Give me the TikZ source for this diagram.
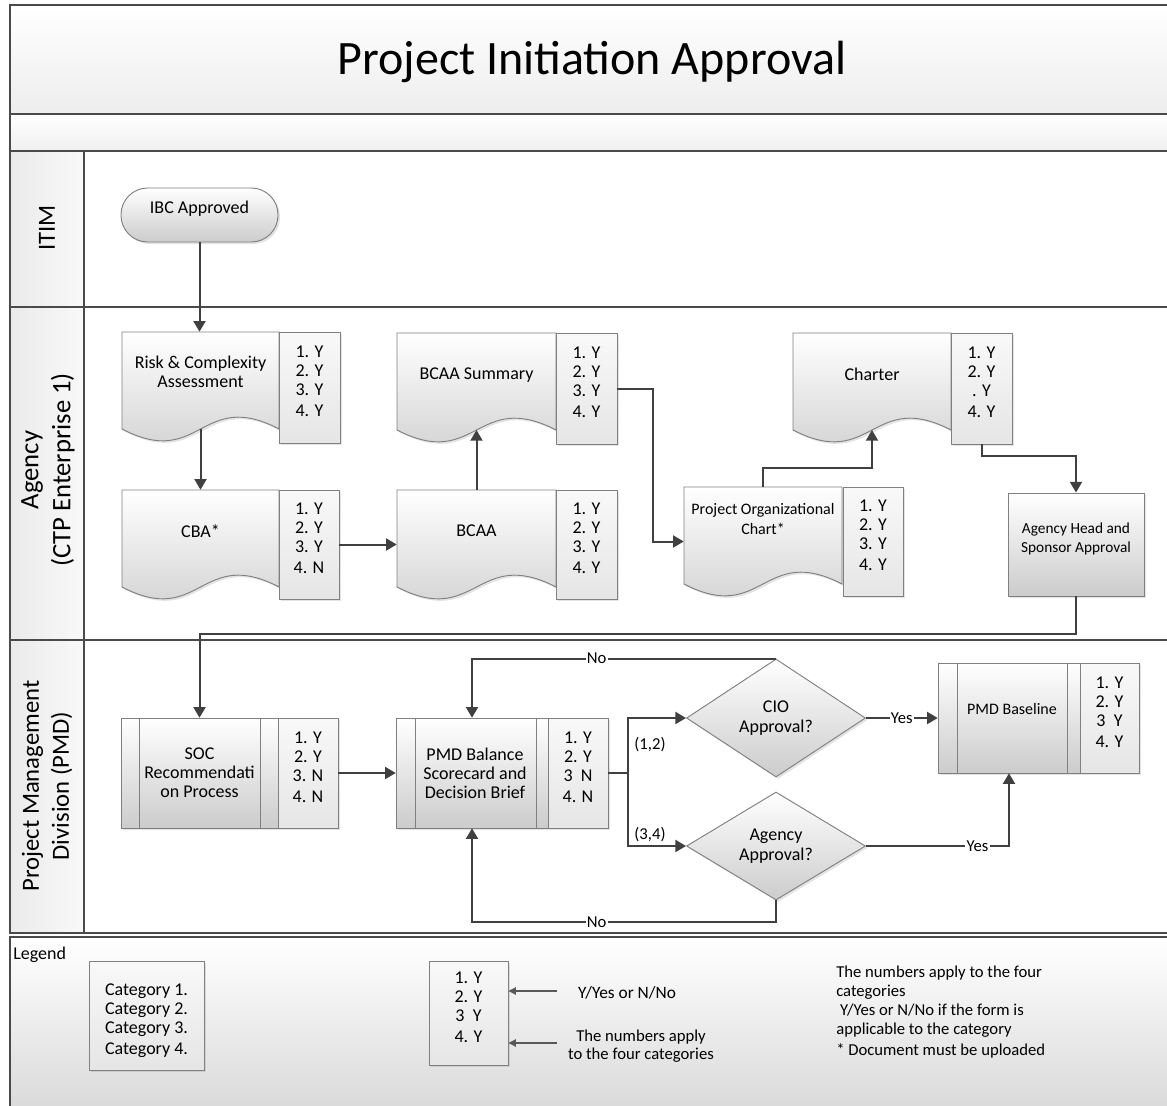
\documentclass[tikz,border=0pt]{standalone}
\usepackage{fontspec}
\setmainfont{Carlito}
\usetikzlibrary{arrows.meta,shapes.geometric,fit,shadows}
\newcommand\myfs[2]{\fontsize{#1}{#2}\selectfont}
\definecolor{ln}{HTML}{404040}
\definecolor{bd}{HTML}{808080}
\definecolor{lanec}{HTML}{4A4A4A}

\newcommand\docshape[7][]{%
  \pgfmathsetmacro\dR{#3+#5}%
  \pgfmathsetmacro\dB{#4+97}%
  \pgfmathsetmacro\dM{#3+0.5*#5}%
  \pgfmathsetmacro\dDn{#4+138}%
  \pgfmathsetmacro\dUp{#4+56}%
  \pgfmathsetmacro\dTy{#4+#7}%
  \pgfmathsetmacro\dBot{#4+109}%
  \path[shp] (#3,#4) -- (\dR,#4) -- (\dR,\dB) .. controls (\dM,\dUp) and (\dM,\dDn) .. (#3,\dB) -- cycle;
  \node[namefit, fit={(#3,#4) (\dR,\dBot)}] (#2) {};
  \coordinate (#2-b) at (\dM,\dB);
  \node[txt,#1] (#2-t) at (\dM,\dTy) {#6};
}

\newcommand\procshape[6]{%
  \pgfmathsetmacro\pB{#3+110}%
  \pgfmathsetmacro\pXa{#2+#5}%
  \pgfmathsetmacro\pXb{#4-#6}%
  \path[shp] (#2,#3) rectangle (#4,\pB);
  \draw[draw=bd, line width=0.7pt] (\pXa,#3) -- (\pXa,\pB) (\pXb,#3) -- (\pXb,\pB);
  \node[namefit, fit={(#2,#3) (#4,\pB)}] (#1) {};
}

\begin{document}
\begin{tikzpicture}[x=0.75pt, y=-0.75pt,
  conn/.style={draw=ln, line width=1.5pt, -{Triangle[length=8pt,width=9pt]}},
  legarr/.style={draw=gray!70!black, line width=0.8pt, -{Triangle[length=5.5pt,width=5.5pt]}},
  shd/.style={drop shadow={shadow xshift=1.5pt, shadow yshift=-1.5pt, opacity=0.22}},
  shp/.style={draw=bd, line width=0.7pt, top color=white, bottom color=gray!40, shd},
  chk/.style={draw=bd, line width=0.7pt, top color=gray!5, bottom color=gray!20, shd, inner sep=0pt, align=center, font=\myfs{13.5}{14.25}},
  txt/.style={inner sep=0pt, align=center, font=\myfs{13.5}{14.25}},
  lbl/.style={fill=white, inner sep=1pt, font=\myfs{12.5}{14}},
  lanebox/.style={draw=lanec, line width=1.2pt},
  lanelbl/.style={rotate=90, align=center, inner sep=0pt, font=\myfs{18.5}{22.5}},
  namefit/.style={inner sep=0pt},
]
\useasboundingbox (0,0) rectangle (1167,1106);
\fill[white] (0,0) rectangle (1167,1106);

% ---- bands and lanes
\path[lanebox, top color=white, bottom color=gray!14] (10,5) rectangle (1180,114);
\node[inner sep=0pt, font=\myfs{36}{40}] (title) at (592,62) {Project Initiation Approval};
\path[lanebox, top color=white, bottom color=gray!12] (10,114) rectangle (1180,151);
\path[left color=gray!16, right color=gray!5] (10,151) rectangle (84,933);
\draw[lanebox] (10,151) rectangle (1180,307);
\draw[lanebox] (10,307) rectangle (1180,640);
\draw[lanebox] (10,640) rectangle (1180,933);
\draw[lanebox] (84,151) -- (84,933);
\node[lanelbl] (litim) at (47,228) {ITIM};
\node[lanelbl, font=\myfs{20}{24}] (lagency) at (48,470) {Agency\\(CTP Enterprise 1)};
\node[lanelbl] (lpmd) at (47,786) {Project Management\\Division (PMD)};
\path[lanebox, top color=white, bottom color=gray!32] (10,937) rectangle (1180,1125);

% ---- ITIM
\node[shp, rounded corners=20pt, inner sep=0pt, fit={(121,188) (278,242)}, font=\myfs{13.5}{14.25}] (ibc) {IBC Approved};

% ---- Agency
\docshape{risk}{122}{332}{157}{Risk \& Complexity\\Assessment}{40}
\node[chk, fit={(279,332) (340,443)}] (riskc) {1. Y\\2. Y\\3. Y\\[1.5pt]4. Y};
\docshape{cba}{122}{490}{157}{CBA*}{41}
\node[chk, fit={(279,490) (339,599)}] (cbac) {1. Y\\2. Y\\3. Y\\[1.5pt]4. N};
\docshape{bsum}{397}{333}{159}{BCAA Summary}{42}
\node[chk, fit={(556,333) (617,444)}] (bsumc) {1. Y\\2. Y\\3. Y\\[1.5pt]4. Y};
\docshape{bcaa}{397}{490}{159}{BCAA}{41}
\node[chk, fit={(556,490) (617,599)}] (bcaac) {1. Y\\2. Y\\3. Y\\[1.5pt]4. Y};
\docshape[font=\myfs{12}{14.5}]{org}{684}{487}{158}{Project Organizational\\Chart*}{32}
\node[chk, fit={(843,487) (903,596)}] (orgc) {1. Y\\2. Y\\3. Y\\[1.5pt]4. Y};
\docshape{charter}{793}{333}{158}{Charter}{41}
\node[chk, fit={(951,333) (1012,444)}] (charterc) {1. Y\\2. Y\\. Y\\[1.5pt]4. Y};
\node[shp, inner sep=0pt, align=center, fit={(1008,493) (1144,596)}, font=\myfs{11.5}{14.25}] (head) {Agency Head and\\Sponsor Approval};

% ---- PMD
\procshape{soc}{121}{718}{278}{18}{18}
\node[txt] (soct) at (199.5,773) {SOC\\Recommendati\\on Process};
\node[chk, fit={(278,718) (338,828)}] (socc) {1. Y\\2. Y\\3. N\\[1.5pt]4. N};
\procshape{pmd}{396}{718}{548}{19}{12}
\node[txt] (pmdt) at (475,773) {PMD Balance\\Scorecard and\\Decision Brief};
\node[chk, fit={(548,718) (608,828)}] (pmdc) {1. Y\\2. Y\\3\ \ N\\[1.5pt]4. N};
\procshape{base}{938}{663}{1080}{19}{13}
\node[txt, font=\myfs{12}{14}] (baset) at (1012,709) {PMD Baseline};
\node[chk, fit={(1080,663) (1139,773)}] (basec) {1. Y\\2. Y\\3\ \ Y\\[1.5pt]4. Y};
\node[shp, shape=diamond, inner sep=0pt, minimum width=134.25pt, minimum height=88.5pt, align=center, font=\myfs{13.5}{15.5}] (cio) at (776,718) {CIO\\Approval?};
\node[shp, shape=diamond, inner sep=0pt, minimum width=134.25pt, minimum height=81pt, align=center, font=\myfs{13.5}{14.5}] (agy) at (776,846) {Agency\\Approval?};

% ---- connectors
\draw[conn] (ibc.south) -- (ibc.south |- risk.north);
\draw[conn] (risk-b) -- (cba.north);
\draw[conn] (cbac.east) -- (cbac.east -| bcaa.west);
\draw[conn] (bcaa.north) -- (bsum-b);
\draw[conn] (bsumc.east) -- ++(36,0) |- (org.west);
\draw[conn] (org.north) -- ++(0,-19) -| (charter-b);
\draw[conn] (charterc.south) -- ++(0,12) -| (head.north);
\draw[conn] (head.south) -- ++(0,38) -| (soc.north);
\draw[conn] (socc.east) -- (pmd.west);
\draw[conn] (pmdc.east) -- ++(20,0) |- (cio.west);
\draw[conn] (pmdc.east) -- ++(20,0) |- (agy.west);
\draw[conn] (cio.east) -- node[lbl] {Yes} (base.west);
\draw[conn] (agy.east) -| node[lbl, pos=0.39] {Yes} (base.south);
\draw[conn] (cio.north) -| node[lbl, pos=0.295] {No} (pmd.north);
\draw[conn] (agy.south) -- ++(0,22) -| node[lbl, pos=0.295] {No} (pmd.south);
\node[lbl, fill=none] (l12) at (650,745) {(1,2)};
\node[lbl, fill=none] (l34) at (650,835) {(3,4)};

% ---- legend
\node[anchor=west, inner sep=0pt, font=\myfs{13.5}{14}] (legend) at (13,955) {Legend};
\node[chk, fit={(89,961) (204,1070)}] (catbox) {};
\node[txt, align=left] (cats) at (146.5,1021) {Category 1.\\Category 2.\\Category 3.\\[1.5pt]Category 4.};
\node[chk, fit={(429,961) (508,1065)}] (ybox) {1. Y\\2. Y\\3\ \ Y\\[1.5pt]4. Y};
\coordinate (la1) at (557,991);
\coordinate (la2) at (557,1043);
\draw[legarr] (la1) -- (la1 -| ybox.east);
\draw[legarr] (la2) -- (la2 -| ybox.east);
\node[txt, font=\myfs{13}{14}] (yn) at (627,993) {Y/Yes or N/No};
\node[txt, font=\myfs{12.5}{14}] (nums) at (641,1046) {The numbers apply\\to the four categories};
\node[txt, anchor=west, align=left, font=\myfs{12.5}{14.25}] (note) at (836,1012) {The numbers apply to the four\\categories\\\ Y/Yes or N/No if the form is\\applicable to the category\\[1.5pt]{*} Document must be uploaded};
\end{tikzpicture}
\end{document}
